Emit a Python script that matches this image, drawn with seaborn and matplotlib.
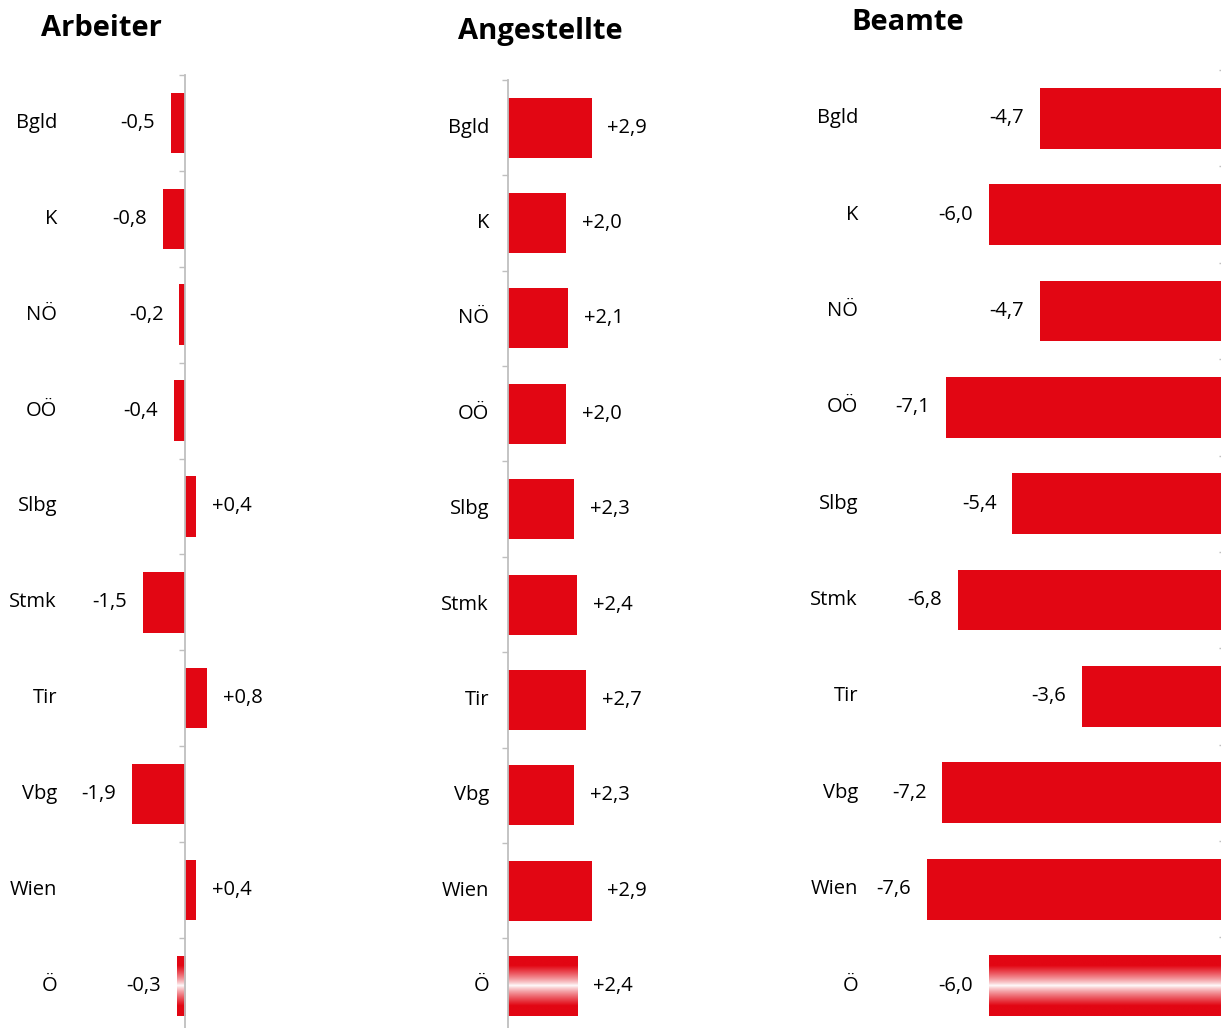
import numpy as np
import pandas as pd
import matplotlib
matplotlib.use("Agg")
import matplotlib.pyplot as plt
import matplotlib.transforms as mtransforms
from matplotlib.colors import to_rgb
import seaborn as sns

# --- data ---
regions = ["Bgld", "K", "NÖ", "OÖ", "Slbg", "Stmk", "Tir", "Vbg", "Wien", "Ö"]
arbeiter = [-0.5, -0.8, -0.2, -0.4, 0.4, -1.5, 0.8, -1.9, 0.4, -0.3]
angestellte = [2.9, 2.0, 2.1, 2.0, 2.3, 2.4, 2.7, 2.3, 2.9, 2.4]
beamte = [-4.7, -6.0, -4.7, -7.1, -5.4, -6.8, -3.6, -7.2, -7.6, -6.0]
titles = ["Arbeiter", "Angestellte", "Beamte"]

RED = "#E20613"
GREY = "#BFBFBF"

sns.set_theme(style="white")
plt.rcParams["font.family"] = ["Open Sans", "DejaVu Sans"]

W, H = 1221, 1028
fig = plt.figure(figsize=(W / 100, H / 100), dpi=100)

# panel layout in pixels: top, bottom, left, right, zero position, px per unit,
# category label x, title x, title y, spine side
panels = [
    dict(top=75, bottom=1028, left=60, right=400, zero=185, scale=27.8,
         lab_x=57, tx=101, ty=28, side="left"),
    dict(top=80, bottom=1028, left=508, right=760, zero=508, scale=28.8,
         lab_x=489, tx=540, ty=31, side="left"),
    dict(top=70, bottom=1028, left=870, right=1222.5, zero=1222.5, scale=38.9,
         lab_x=858, tx=908, ty=23, side="right"),
]


def fmt(v):
    return f"{v:+.1f}".replace(".", ",")


def gradient_fill(ax, patch):
    # red at the edges, white band in the middle (like the Austrian flag)
    t = np.linspace(0, 1, 200)
    w = np.clip(np.abs(t - 0.5) / 0.33, 0, 1) ** 0.8
    red = np.array(to_rgb(RED))
    img = (1 - w)[:, None] * np.ones(3) + w[:, None] * red
    img = img[:, None, :]
    x0, y0 = patch.get_x(), patch.get_y()
    x1, y1 = x0 + patch.get_width(), y0 + patch.get_height()
    im = ax.imshow(img, extent=(min(x0, x1), max(x0, x1), max(y0, y1), min(y0, y1)),
                   aspect="auto", zorder=patch.get_zorder() + 1, interpolation="bilinear")
    im.set_clip_path(patch)


for values, title, p in zip([arbeiter, angestellte, beamte], titles, panels):
    ax = fig.add_axes([p["left"] / W, 1 - p["bottom"] / H,
                       (p["right"] - p["left"]) / W, (p["bottom"] - p["top"]) / H])
    df = pd.DataFrame({"region": regions, "value": values})
    sns.barplot(data=df, x="value", y="region", orient="h", color=RED,
                saturation=1, width=0.63, ax=ax, edgecolor="none")

    xmin = -(p["zero"] - p["left"]) / p["scale"]
    xmax = (p["right"] - p["zero"]) / p["scale"]

    gradient_fill(ax, ax.patches[regions.index("Ö")])

    ax.set_xlim(xmin, xmax)
    ax.set_ylim(9.44, -0.5)
    ax.set_xticks([])
    ax.set_yticks(np.arange(-0.5, len(regions) - 0.5, 1))
    ax.set_yticklabels([])
    ax.set_xlabel("")
    ax.set_ylabel("")
    for s in ["top", "bottom", "left", "right"]:
        ax.spines[s].set_visible(False)
    sp = ax.spines[p["side"]]
    sp.set_visible(True)
    sp.set_position(("data", 0))
    sp.set_color(GREY)
    sp.set_linewidth(1.3)
    if p["side"] == "right":
        ax.yaxis.tick_right()
        ax.tick_params(axis="y", direction="in", length=3, width=1, color=GREY)
    else:
        ax.tick_params(axis="y", direction="out", length=4, width=1, color=GREY, left=True)

    # value labels
    for i, v in enumerate(values):
        off = 11.5 if v >= 0 else -11.5
        ax.annotate(fmt(v), xy=(v, i), xytext=(off, 0), textcoords="offset points",
                    ha="left" if v >= 0 else "right", va="center",
                    fontsize=14.5, color="black")

    # category labels
    trans = mtransforms.blended_transform_factory(fig.transFigure, ax.transData)
    for i, r in enumerate(regions):
        ax.text(p["lab_x"] / W, i, r, transform=trans, ha="right", va="center",
                fontsize=14.5, color="black")

    fig.text(p["tx"] / W, 1 - p["ty"] / H, title, ha="center", va="center",
             fontsize=21, fontweight="bold", color="black")

fig.savefig("out.png", dpi=100)
